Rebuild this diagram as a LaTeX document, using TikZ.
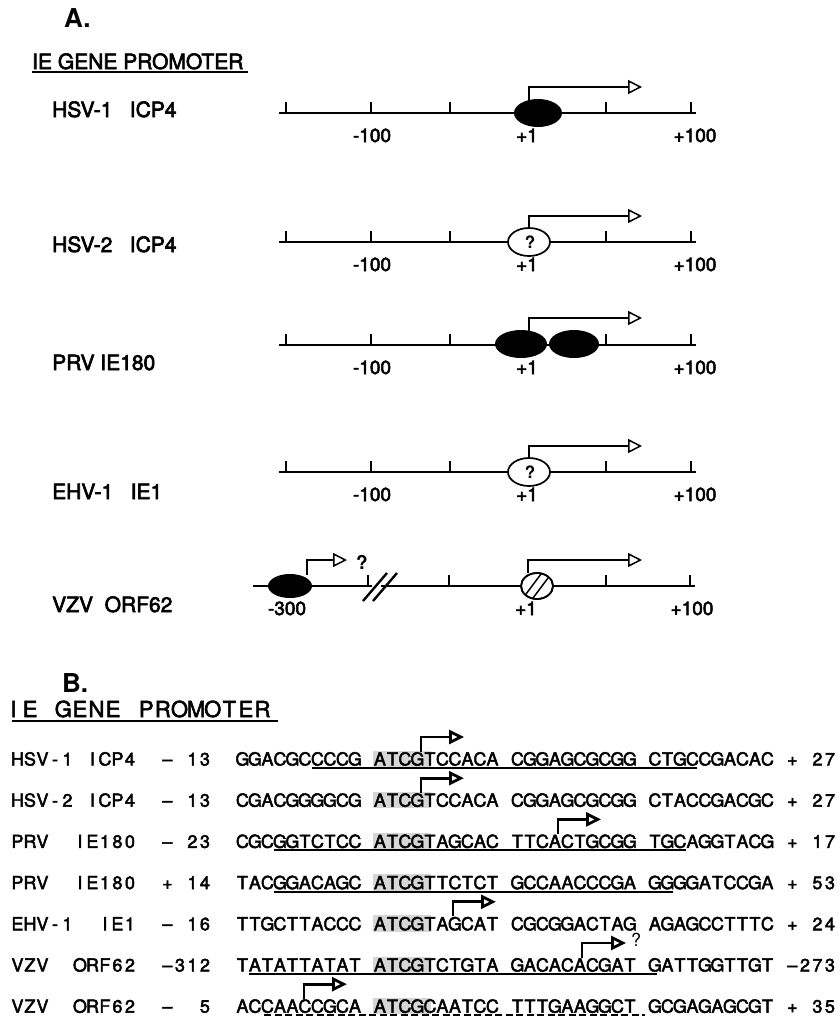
\documentclass[tikz,border=0pt]{standalone}
\usepackage{fontspec}
\setmainfont{TeX Gyre Heros}
\newfontfamily\afont{TeX Gyre Heros}[FakeBold=3]
\newfontfamily\bfont{TeX Gyre Heros}[FakeBold=2.5]
\usetikzlibrary{arrows.meta}

\newlength\monopitch
\def\monoend{\monoend}
\def\monoi#1{\ifx#1\monoend\else\ifx#1_\makebox[\monopitch]{\ }\else\makebox[\monopitch][c]{#1}\fi\expandafter\monoi\fi}
\newcommand\mono[2][12.5pt]{\setlength\monopitch{#1}\monoi#2\monoend}
\newcommand\cx[1]{11+#1*12.5}

\newcommand\aruler[2]{%
  \draw[rulerline] (279,#2) -- (696,#2);
  \foreach \t in {286,371,450,529,606,691} \draw[tick] (\t,#2) -- (\t,#2-11);
  \node[num] (#1m) at (372,#2+29) {-100};
  \node[num] (#1o) at (527,#2+29) {+1};
  \node[num] (#1h) at (695,#2+29) {+100};
}

\newcommand\brow[9]{%
  \fill[shadebox] ({\cx{29}-1},#2-15) rectangle ({\cx{33.6}},#2+1.5);
  \node[bx] (#1l) at ({\cx{0}},#2) {\mono{#3}};
  \node[bx] (#1n) at ({\cx{12}},#2) {\mono{#4}};
  \node[bx] (#1a) at ({\cx{18}},#2) {\mono{#5}};
  \node[bx] (#1b) at ({\cx{29}},#2) {\mono{#6}};
  \node[bx] (#1c) at ({\cx{40}},#2) {\mono{#7}};
  \node[bx] (#1d) at ({\cx{51}},#2) {\mono{#8}};
  \node[bx] (#1e) at ({\cx{62}},#2) {\mono{#9}};
}

\begin{document}
\begin{tikzpicture}[x=1pt,y=-1pt,
  lbl/.style={font=\afont\fontsize{21}{24}\selectfont, anchor=base west, inner sep=0},
  num/.style={font=\afont\fontsize{19}{22}\selectfont, anchor=base, inner sep=0},
  rulerline/.style={line width=2pt},
  tick/.style={line width=1.3pt},
  tss/.style={line width=1.5pt, -{Triangle[open,length=14pt,width=14pt]}},
  qmark/.style={font=\bfseries\fontsize{17}{17}\selectfont, inner sep=0},
  oval/.style={line width=1.7pt, fill=white},
  bx/.style={font=\bfont\fontsize{18}{20}\selectfont, anchor=base west, inner sep=0},
  barr/.style={line width=2.8pt, -{Triangle[open,length=15pt,width=14pt]}},
  uline/.style={line width=1.9pt},
  shadebox/.style={fill=black!16},
  title/.style={font=\bfseries\fontsize{26}{26}\selectfont, anchor=base west, inner sep=0}
]
\useasboundingbox (0,0) rectangle (839,1021);
\fill[white] (0,0) rectangle (839,1021);

% ---------------- Part A ----------------
\node[title] (A) at (64,27) {A.};
\node[lbl] (ha) at (32,69) {IE GENE PROMOTER};
\draw[line width=1.6pt] (32,72) -- (248,72);

% HSV-1 ICP4
\node[lbl] (l1) at (52,117) {HSV-1\ \ \ ICP4};
\aruler{r1}{113}
\fill (538,113) ellipse [x radius=24pt, y radius=14pt];
\draw[tss] (529,100) |- (642,87);

% HSV-2 ICP4
\node[lbl] (l2) at (52,252) {HSV-2\ \ \ ICP4};
\aruler{r2}{242}
\draw[oval] (529,242) ellipse [x radius=21pt, y radius=14pt];
\node[qmark] (q2) at (530,242) {?};
\draw[tss] (529,228) |- (642,216);

% PRV IE180
\node[lbl] (l3) at (52,370) {PRV IE180};
\aruler{r3}{345}
\fill (521,344) ellipse [x radius=26pt, y radius=14pt];
\fill (574,344) ellipse [x radius=25pt, y radius=14pt];
\draw[tss] (529,331) |- (642,318);

% EHV-1 IE1
\node[lbl] (l4) at (52,499) {EHV-1\ \ \ IE1};
\aruler{r4}{472}
\draw[oval] (529,472) ellipse [x radius=21pt, y radius=14pt];
\node[qmark] (q4) at (530,472) {?};
\draw[tss] (529,458) |- (642,446);

% VZV ORF62
\node[lbl] (l5) at (52,612) {VZV\ \ ORF62};
\draw[rulerline] (253,586) -- (372,586);
\draw[rulerline] (381,586) -- (695,586);
\foreach \t in {368,449,529,606,690} \draw[tick] (\t,586) -- (\t,575);
\fill (290,586) ellipse [x radius=22pt, y radius=12pt];
\draw[tss] (307,575) |- (347,560);
\node[qmark, font=\bfseries\fontsize{19}{19}\selectfont] (q5) at (362,562) {?};
\draw[line width=2.4pt] (363,601) -- (387,573);
\draw[line width=2.4pt] (373,601) -- (397,573);
\draw[oval] (537,586) ellipse [x radius=16pt, y radius=13pt];
\begin{scope}
  \clip (537,586) ellipse [x radius=16pt, y radius=13pt];
  \draw[line width=1.5pt] (520,602) -- (544,570);
  \draw[line width=1.5pt] (530,602) -- (554,570);
\end{scope}
\draw[line width=1.7pt] (537,586) ellipse [x radius=16pt, y radius=13pt];
\draw[tss] (528,573) |- (642,560);
\node[num] (r5m) at (287,615) {-300};
\node[num] (r5o) at (526,615) {+1};
\node[num] (r5h) at (692,615) {+100};

% ---------------- Part B ----------------
\node[title] (B) at (62,692) {B.};
\node[bx, font=\bfont\fontsize{22}{24}\selectfont] (hb) at (5,717) {\mono[16.6pt]{IE_GENE_PROMOTER}};
\draw[line width=1.6pt] (12,721) -- (278,721);

\brow{b1}{765.5}{HSV-1_ICP4}{–_13}{GGACGCCCCG}{ATCGTCCACA}{CGGAGCGCGG}{CTGCCGACAC}{+_27}
\brow{b2}{806.7}{HSV-2_ICP4}{–_13}{CGACGGGGCG}{ATCGTCCACA}{CGGAGCGCGG}{CTACCGACGC}{+_27}
\brow{b3}{847.9}{PRV__IE180}{–_23}{CGCGGTCTCC}{ATCGTAGCAC}{TTCACTGCGG}{TGCAGGTACG}{+_17}
\brow{b4}{889.1}{PRV__IE180}{+_14}{TACGGACAGC}{ATCGTTCTCT}{GCCAACCCGA}{GGGGATCCGA}{+_53}
\brow{b5}{930.3}{EHV-1__IE1}{–_16}{TTGCTTACCC}{ATCGTAGCAT}{CGCGGACTAG}{AGAGCCTTTC}{+_24}
\brow{b6}{971.5}{VZV__ORF62}{–312}{TATATTATAT}{ATCGTCTGTA}{GACACACGAT}{GATTGGTTGT}{–273}
\brow{b7}{1012.7}{VZV__ORF62}{–__5}{ACCAACCGCA}{ATCGCAATCC}{TTTGAAGGCT}{GCGAGAGCGT}{+_35}

% underlines
\draw[uline] (312,768) -- (697,768);
\draw[uline] (274,850.4) -- (686,850.4);
\draw[uline] (274,891.6) -- (673,891.6);
\draw[uline] (249,974) -- (657,974);
\draw[uline, dash pattern=on 7pt off 3.5pt] (264,1015.2) -- (645,1015.2);

% start arrows
\draw[barr] (421,751.5) |- (464,737);
\draw[barr] (421,792.7) |- (464,778.2);
\draw[barr] (558,833.9) |- (601,819.4);
\draw[barr] (453,916.3) |- (496,901.8);
\draw[barr] (582,957.5) |- (626,943);
\node[font=\fontsize{18}{20}\selectfont, inner sep=0] (q6) at (636,940) {?};
\draw[barr] (304,998.7) |- (347,984.2);
\end{tikzpicture}
\end{document}
